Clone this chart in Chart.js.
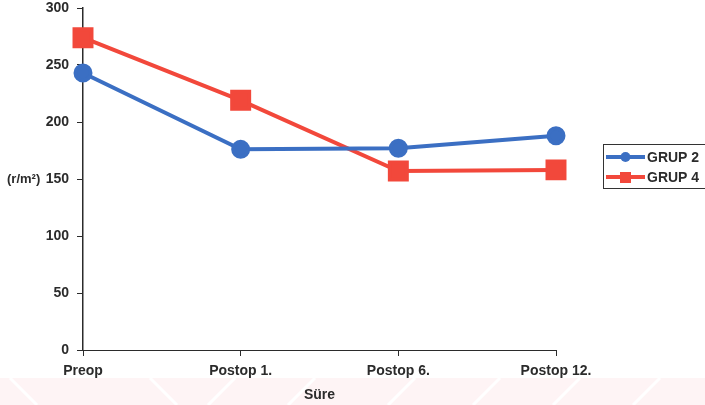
<!DOCTYPE html>
<html>
<head>
<meta charset="utf-8">
<script src="https://cdn.jsdelivr.net/npm/chart.js@4/dist/chart.umd.min.js"></script>
<style>
  html, body { margin: 0; padding: 0; background: #ffffff; }
  #wrap { width: 705px; height: 405px; position: relative; }
</style>
</head>
<body>
<div id="wrap"><canvas id="c" width="705" height="405"></canvas></div>
<script>
// Measurement periods and group means
const categories = ['Preop', 'Postop 1.', 'Postop 6.', 'Postop 12.'];
const grup2 = [243, 176, 177, 188];
const grup4 = [274, 219, 157, 158];
const seriesNames = ['GRUP 2', 'GRUP 4'];
const yTicks = [0, 50, 100, 150, 200, 250, 300];
const yTitle = '(r/m\u00B2)';
const xTitle = 'S\u00FCre';

const BLUE = '#3b6fc3';
const RED = '#f2483b';
const INK = '#2b2b2b';
const FONT = 'Liberation Sans, Arial, sans-serif';

// Faint pink band along the bottom edge of the page
const bandPlugin = {
  id: 'band',
  beforeDraw(chart) {
    const ctx = chart.ctx;
    ctx.save();
    ctx.fillStyle = '#fef4f5';
    ctx.fillRect(0, 378, chart.width, chart.height - 378);
    ctx.strokeStyle = '#ffffff';
    ctx.lineWidth = 3;
    const starts = [10, 150, 235, 315, 415, 500, 580, 660];
    const dirs = [1, 1, -1, -1, -1, -1, -1, -1];
    starts.forEach((s, i) => {
      ctx.beginPath();
      ctx.moveTo(s, 378);
      ctx.lineTo(s + dirs[i] * 27, 405);
      ctx.stroke();
    });
    ctx.restore();
  }
};

// Horizontal y-axis caption and boxed legend with line + marker samples
const decorPlugin = {
  id: 'decor',
  afterDraw(chart) {
    const ctx = chart.ctx;
    const y = chart.scales.y;
    ctx.save();
    ctx.font = 'bold 13px ' + FONT;
    ctx.fillStyle = INK;
    ctx.textAlign = 'left';
    ctx.textBaseline = 'middle';
    ctx.fillText(yTitle, 7, y.getPixelForValue(150));

    // legend box
    const bx = 603.5, by = 144.5, bw = 110, bh = 44;
    ctx.strokeStyle = '#333333';
    ctx.lineWidth = 1;
    ctx.strokeRect(bx, by, bw, bh);
    chart.data.datasets.forEach((ds, i) => {
      const cy = 157 + i * 20;
      ctx.strokeStyle = ds.borderColor;
      ctx.lineWidth = 4;
      ctx.beginPath();
      ctx.moveTo(606, cy);
      ctx.lineTo(645, cy);
      ctx.stroke();
      ctx.fillStyle = ds.borderColor;
      if (ds.pointStyle === 'rect') {
        ctx.fillRect(620, cy - 5, 11, 11);
      } else {
        ctx.beginPath();
        ctx.arc(625.5, cy, 5, 0, Math.PI * 2);
        ctx.fill();
      }
      ctx.fillStyle = INK;
      ctx.font = 'bold 14px ' + FONT;
      ctx.fillText(ds.label, 647, cy + 1);
    });
    ctx.restore();
  }
};

new Chart(document.getElementById('c'), {
  type: 'line',
  data: {
    labels: categories,
    datasets: [
      {
        label: seriesNames[0], data: grup2,
        borderColor: BLUE, backgroundColor: BLUE, borderWidth: 4,
        pointStyle: 'circle', pointRadius: 7.5, pointHoverRadius: 7.5,
        tension: 0, clip: false
      },
      {
        label: seriesNames[1], data: grup4,
        borderColor: RED, backgroundColor: RED, borderWidth: 4,
        pointStyle: 'rect', pointRadius: 12, pointHoverRadius: 12,
        tension: 0, clip: false
      }
    ]
  },
  options: {
    responsive: false,
    animation: false,
    events: [],
    layout: { autoPadding: false, padding: { left: 0, right: 149, top: 8, bottom: 0 } },
    plugins: {
      legend: { display: false },
      tooltip: { enabled: false }
    },
    scales: {
      x: {
        offset: false,
        afterFit(s) { s.height = 55; s.paddingLeft = 0; s.paddingRight = 0; },
        border: { display: true, color: INK, width: 1 },
        grid: { display: true, drawOnChartArea: false, drawTicks: true, tickLength: 6, color: INK },
        ticks: { color: INK, font: { family: FONT, size: 14, weight: 'bold' }, padding: 7, maxRotation: 0 },
        title: { display: true, text: xTitle, color: INK, font: { family: FONT, size: 14, weight: 'bold' }, padding: { top: 0, bottom: 1 } }
      },
      y: {
        min: 0, max: 300,
        afterFit(s) { s.width = 83; s.paddingTop = 0; s.paddingBottom = 0; },
        afterBuildTicks(s) { s.ticks = yTicks.map(v => ({ value: v })); },
        border: { display: true, color: INK, width: 1.5 },
        grid: { display: true, drawOnChartArea: false, drawTicks: true, tickLength: 6, color: INK },
        ticks: { color: INK, font: { family: FONT, size: 14, weight: 'bold' }, padding: 8 }
      }
    }
  },
  plugins: [bandPlugin, decorPlugin]
});
</script>
</body>
</html>
